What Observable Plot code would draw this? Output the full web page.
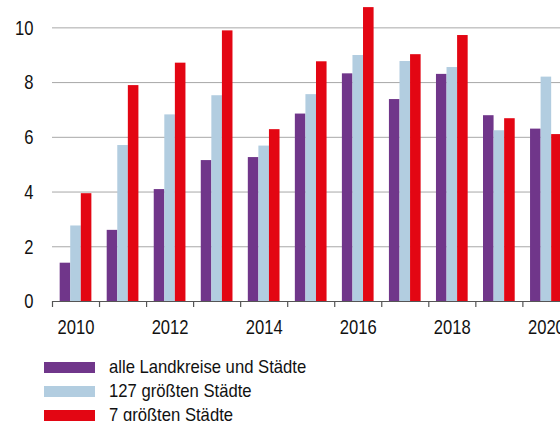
<!DOCTYPE html>
<html>
<head>
<meta charset="utf-8">
<script src="https://cdn.jsdelivr.net/npm/d3@7"></script>
<script src="https://cdn.jsdelivr.net/npm/@observablehq/plot@0.6"></script>
<style>
  html, body { margin: 0; padding: 0; background: #fff; overflow: hidden; width: 560px; height: 421px; }
  body { font-family: "Liberation Sans", Arial, sans-serif; }
  #legend { margin-left: 44px; margin-top: 10px; }
  .row { display: flex; align-items: center; height: 24px; font-size: 18.5px; color: #111; }
  .sw { width: 51px; height: 11px; margin-right: 14px; flex: none; }
  .lbl { display: inline-block; transform: scaleX(0.9); transform-origin: left center; white-space: nowrap; }
</style>
</head>
<body>
<div id="chart"></div>
<div id="legend"></div>
<script>
const years = [2010, 2011, 2012, 2013, 2014, 2015, 2016, 2017, 2018, 2019, 2020];
const seriesNames = ["alle Landkreise und Städte", "127 größten Städte", "7 größten Städte"];
const alleLandkreise = [1.40, 2.60, 4.09, 5.15, 5.26, 6.85, 8.32, 7.38, 8.30, 6.79, 6.30];
const groessten127 = [2.76, 5.70, 6.82, 7.52, 5.68, 7.56, 8.99, 8.77, 8.55, 6.24, 8.20];
const groessten7 = [3.94, 7.89, 8.71, 9.89, 6.28, 8.76, 10.74, 9.02, 9.72, 6.68, 6.10];
const colors = ["#70368a", "#b2cde0", "#e30613"];
const yTicks = [0, 2, 4, 6, 8, 10];
const xLabelYears = [2010, 2012, 2014, 2016, 2018, 2020];

const seriesValues = [alleLandkreise, groessten127, groessten7];
const data = [];
seriesValues.forEach((vals, i) => {
  vals.forEach((v, j) => data.push({year: years[j], series: seriesNames[i], idx: i, value: v}));
});

const groupFrac = 0.674;
const barFrac = groupFrac / 3;
const offset = (1 - groupFrac) / 2;
const boundaries = years.map(y => y - 0.5);

const font = '"Liberation Sans", Arial, sans-serif';

const chart = Plot.plot({
  width: 560,
  height: 345,
  marginLeft: 52,
  marginRight: 0,
  marginTop: 0,
  marginBottom: 44,
  style: {fontFamily: font, fontSize: "21px", color: "#111", background: "#fff", overflow: "hidden"},
  x: {type: "linear", domain: [2009.5, 2020.3], label: null},
  y: {domain: [0, 11], label: null},
  color: {domain: seriesNames, range: colors},
  marks: [
    Plot.gridY(yTicks, {stroke: "#a8a8a8", strokeOpacity: 1, strokeWidth: 1}),
    Plot.rectY(data, {
      x1: d => d.year - 0.5 + offset + d.idx * barFrac,
      x2: d => d.year - 0.5 + offset + (d.idx + 1) * barFrac,
      y1: 0,
      y2: "value",
      fill: "series",
      clip: true
    }),
    Plot.ruleY([0], {stroke: "#555", strokeWidth: 1.2}),
    Plot.axisX(boundaries, {tickSize: 6, tickFormat: () => "", stroke: "#555", strokeWidth: 1.2, label: null}),
    Plot.axisX(xLabelYears, {tickSize: 0, tickPadding: 18, tickFormat: d => String(d), fontSize: 21, fill: "#111", label: null}),
    Plot.axisY(yTicks, {tickSize: 0, tickPadding: 19, fontSize: 21, fill: "#111", label: null})
  ]
});
document.getElementById("chart").appendChild(chart);

// condense the axis text (the reference uses a condensed face)
chart.querySelectorAll("text").forEach(t => {
  const len = t.getComputedTextLength();
  if (len > 0) {
    t.setAttribute("textLength", (len * 0.79).toFixed(2));
    t.setAttribute("lengthAdjust", "spacingAndGlyphs");
  }
});

const legend = document.getElementById("legend");
seriesNames.forEach((name, i) => {
  const row = document.createElement("div");
  row.className = "row";
  const sw = document.createElement("div");
  sw.className = "sw";
  sw.style.background = colors[i];
  const label = document.createElement("span");
  label.className = "lbl";
  label.textContent = name;
  row.appendChild(sw);
  row.appendChild(label);
  legend.appendChild(row);
});
</script>
</body>
</html>
